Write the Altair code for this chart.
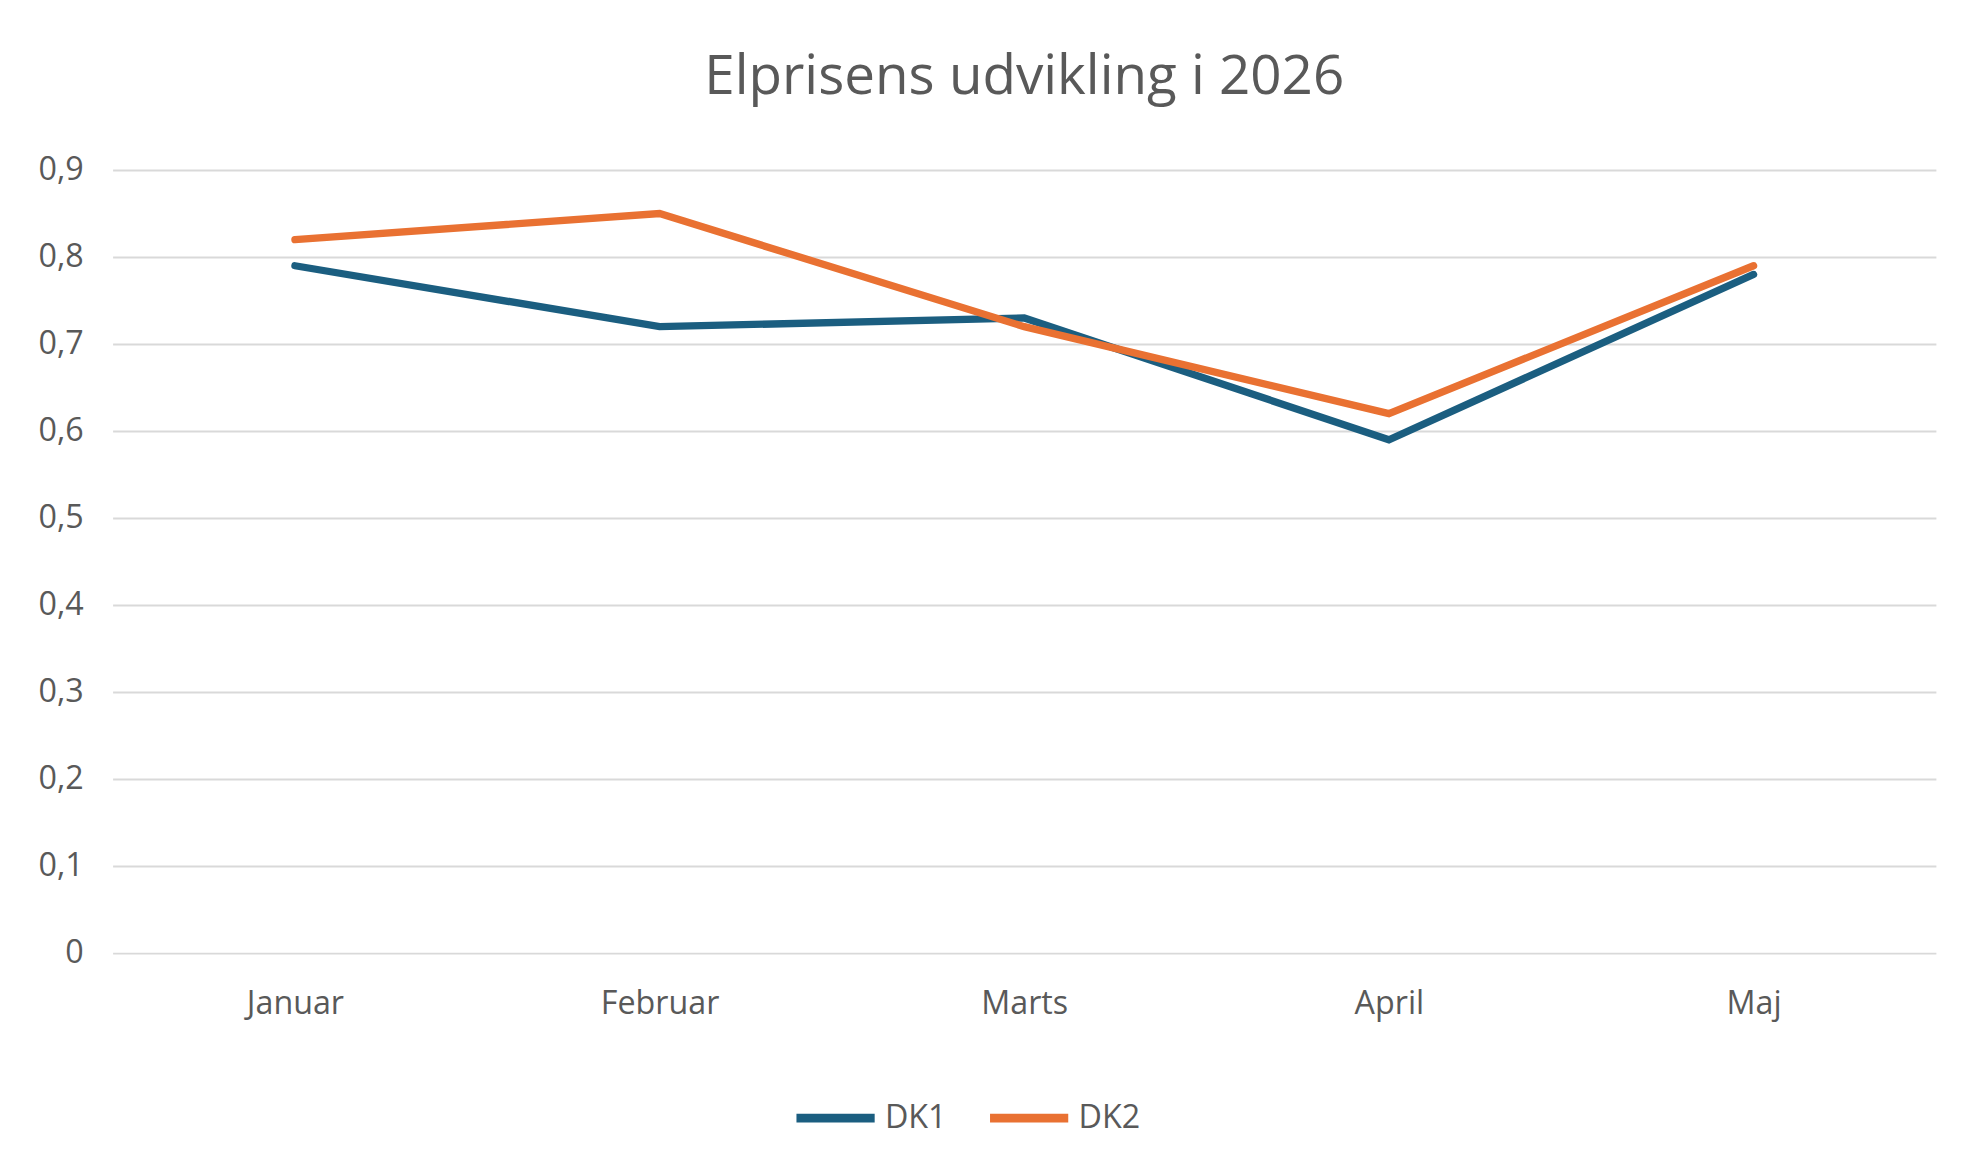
import altair as alt
import pandas as pd

months = ["Januar", "Februar", "Marts", "April", "Maj"]
dk1 = [0.79, 0.72, 0.73, 0.59, 0.78]
dk2 = [0.82, 0.85, 0.72, 0.62, 0.79]

rows = []
for m, a, b in zip(months, dk1, dk2):
    rows.append({"Måned": m, "Serie": "DK1", "Pris": a})
    rows.append({"Måned": m, "Serie": "DK2", "Pris": b})
df = pd.DataFrame(rows)

font = "Open Sans"
gray = "#595959"

chart = alt.Chart(df).mark_line(strokeWidth=7.5, strokeCap="round").encode(
    x=alt.X("Måned:N", sort=months, title=None,
            scale=alt.Scale(type="point", padding=0.5),
            axis=alt.Axis(labelAngle=0, labelPadding=36, ticks=False, domain=False,
                          grid=False, labelFontSize=33, labelColor=gray, labelFont=font)),
    y=alt.Y("Pris:Q", title=None,
            scale=alt.Scale(domain=[0, 0.9]),
            axis=alt.Axis(values=[0, 0.1, 0.2, 0.3, 0.4, 0.5, 0.6, 0.7, 0.8, 0.9],
                          labelExpr="datum.value == 0 ? '0' : replace(format(datum.value, '.1f'), '.', ',')",
                          ticks=False, domain=False, gridColor="#d9d9d9", gridWidth=2,
                          labelPadding=30, labelFontSize=33, labelColor=gray, labelFont=font)),
    color=alt.Color("Serie:N", title=None,
                    scale=alt.Scale(domain=["DK1", "DK2"], range=["#1B5E80", "#E97132"]),
                    legend=alt.Legend(orient="none", legendX=695, legendY=925, direction="horizontal",
                                      symbolType="stroke", symbolSize=6400, symbolStrokeWidth=9,
                                      labelFontSize=33, labelColor=gray, labelFont=font,
                                      columnPadding=25, labelOffset=6)),
).properties(
    width=1865, height=801,
    title=alt.TitleParams("Elprisens udvikling i 2026", fontSize=56, font=font,
                          color=gray, fontWeight="normal", offset=50),
    padding={"left": 30, "top": 28, "right": 40, "bottom": 150},
).configure_view(stroke=None)

chart.save("out.html", embed_options={"renderer": "svg", "actions": False})
